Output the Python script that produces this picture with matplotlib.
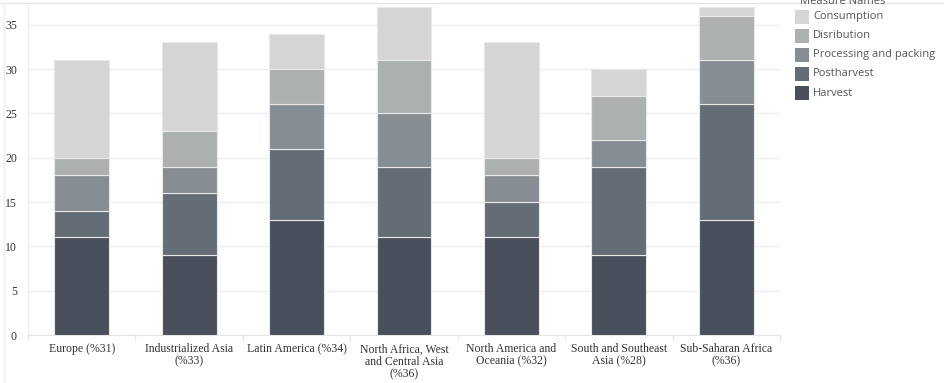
import matplotlib.pyplot as plt
from matplotlib.patches import Rectangle
from matplotlib.lines import Line2D

regions = ["Europe (%31)", "Industrialized Asia\n(%33)", "Latin America (%34)",
           "North Africa, West\nand Central Asia\n(%36)", "North America and\nOceania (%32)",
           "South and Southeast\nAsia (%28)", "Sub-Saharan Africa\n(%36)"]
harvest = [11, 9, 13, 11, 11, 9, 13]
postharvest = [3, 7, 8, 8, 4, 10, 13]
processing = [4, 3, 5, 6, 3, 3, 5]
distribution = [2, 4, 4, 6, 2, 5, 5]
consumption = [11, 10, 4, 6, 13, 3, 1]

stages = ["Harvest", "Postharvest", "Processing and packing", "Disribution", "Consumption"]
series = [harvest, postharvest, processing, distribution, consumption]
colors = ["#4a505b", "#646d76", "#878e93", "#adb0b0", "#d5d5d5"]

fig = plt.figure(figsize=(9.44, 3.83), dpi=100)
ax = fig.add_axes([28 / 944, 48 / 383, 752 / 944, 332.5 / 383])

x = list(range(len(regions)))
bottom = [0] * len(regions)
for name, vals, col in zip(stages, series, colors):
    ax.bar(x, vals, width=0.51, bottom=bottom, color=col, edgecolor="#e8e8e8",
           linewidth=0.8, label=name, zorder=3)
    bottom = [b + v for b, v in zip(bottom, vals)]

ax.set_xlim(-0.5, len(regions) - 0.5)
ax.set_ylim(0, 37.5)
ax.set_yticks(range(0, 36, 5))
ax.yaxis.grid(True, color="#eeeeee", linewidth=1.0, zorder=0)
ax.set_xticks(x)
ax.set_xticklabels(regions, family="Liberation Serif", fontsize=8.5, color="#333333",
                   linespacing=1.05)
for lbl in ax.get_yticklabels():
    lbl.set_family("Liberation Serif")
    lbl.set_fontsize(8.5)
    lbl.set_color("#333333")
ax.tick_params(axis="both", length=0, pad=6)
ax.tick_params(axis="y", pad=8)

for s in ["top", "right"]:
    ax.spines[s].set_visible(False)
ax.spines["left"].set_color("#eeeeee")
ax.spines["bottom"].set_color("#e6e6e6")

# separators between category columns under the axis
for b in [i + 0.5 for i in range(-1, len(regions))]:
    ax.plot([b, b], [0, -0.6], color="#e6e6e6", lw=0.8, clip_on=False)

# panel borders
fig.add_artist(Line2D([0, 1], [1 - 3 / 383, 1 - 3 / 383], color="#e6e6e6", lw=1))
fig.add_artist(Line2D([4 / 944, 4 / 944], [0, 1 - 3 / 383], color="#eeeeee", lw=1))

# legend (top to bottom: Consumption ... Harvest)
fig.text(800 / 944, 1 - 1 / 383, "Measure Names", family="Open Sans", fontsize=8,
         color="#555555", va="center")
for i, (name, col) in enumerate(zip(stages[::-1], colors[::-1])):
    yc = 17 + i * 19
    fig.add_artist(Rectangle((795 / 944, 1 - (yc + 7) / 383), 14 / 944, 14 / 383,
                             facecolor=col, edgecolor="none"))
    fig.text(813 / 944, 1 - yc / 383, name, family="Open Sans", fontsize=8,
             color="#555555", va="center")

fig.savefig("out.png", dpi=100)
